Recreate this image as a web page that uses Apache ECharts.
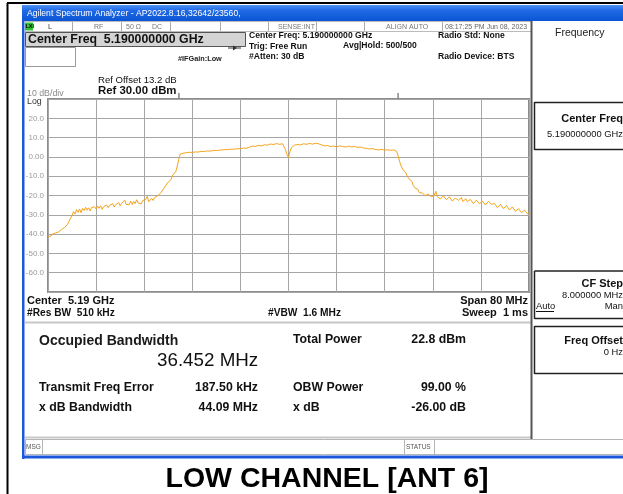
<!DOCTYPE html>
<html lang="en">
<head>
<meta charset="UTF-8">
<title>LOW CHANNEL [ANT 6]</title>
<script src="https://cdn.jsdelivr.net/npm/echarts@6/dist/echarts.min.js"></script>
<style>
	html,body{margin:0;padding:0;background:#fff;}
	#main{width:623px;height:494px;}
</style>
</head>
<body>
<div id="main"></div>
<script>
	// span -40..+40 MHz around 5.19 GHz, one point every 0.25 MHz (8 per row = 2 MHz)
	var spanMhz = [-40, 40];
	var stepMhz = 0.25;
	var traceDbm = [
		-41.2,-40.6,-41.0,-39.9,-40.3,-39.4,-39.8,-38.9,
		-38.4,-37.6,-37.9,-36.6,-35.8,-34.9,-33.4,-34.1,
		-30.2,-28.4,-29.6,-27.3,-28.8,-27.0,-28.9,-26.7,
		-27.8,-26.1,-27.6,-26.4,-28.0,-26.2,-27.1,-25.9,
		-27.0,-25.5,-26.6,-25.3,-27.2,-25.8,-26.4,-24.9,
		-26.3,-25.1,-25.9,-24.2,-26.0,-24.8,-25.5,-23.7,
		-25.3,-24.0,-24.9,-22.4,-24.6,-23.6,-24.8,-22.9,
		-24.7,-23.1,-24.2,-22.2,-23.9,-23.0,-24.4,-22.6,
		-23.5,-22.1,-20.4,-23.2,-22.4,-21.5,-22.6,-21.0,
		-21.6,-20.2,-19.9,-18.6,-18.3,-16.4,-15.9,-14.1,
		-13.0,-12.2,-11.6,-9.4,-8.9,-7.6,-4.8,-1.2,
		1.5,2.3,1.9,2.6,2.2,2.8,2.4,2.6,
		2.3,2.9,2.6,3.1,2.5,3.2,2.9,3.0,
		2.8,3.4,3.1,3.6,3.0,3.7,3.3,3.5,
		3.3,3.9,3.5,4.1,3.6,4.2,3.8,4.0,
		3.8,4.4,4.0,4.3,4.0,4.7,4.2,4.5,
		4.3,4.9,4.5,4.8,4.5,5.3,5.0,5.4,
		5.6,5.2,5.4,5.9,6.0,5.6,5.7,6.3,
		6.3,6.0,6.1,6.6,6.7,6.3,6.4,6.9,
		6.9,6.5,6.5,6.9,6.8,6.1,3.8,1.2,
		-0.4,2.8,4.9,5.8,6.1,6.5,6.4,6.2,
		6.2,6.7,6.8,6.4,6.5,7.0,7.0,6.6,
		6.6,7.2,7.1,6.7,6.8,6.5,6.2,5.9,
		5.7,6.1,5.9,5.5,5.3,5.8,5.6,5.2,
		5.2,5.6,5.7,5.3,5.4,5.1,5.1,5.6,
		5.5,5.1,5.2,5.5,5.4,4.9,4.9,5.3,
		5.1,4.7,4.6,4.4,4.4,4.2,4.1,4.4,
		4.3,3.8,3.8,3.6,3.6,4.0,3.9,3.4,
		3.5,3.8,3.7,3.4,3.4,3.7,3.6,3.2,
		2.8,0.4,-2.6,-4.8,-6.4,-7.2,-8.2,-10.1,
		-11.3,-11.9,-12.6,-14.8,-16.0,-15.6,-16.8,-18.5,
		-19.2,-18.7,-18.4,-20.1,-20.3,-19.2,-19.6,-20.8,
		-21.0,-19.9,-17.8,-20.6,-20.9,-21.8,-21.6,-20.2,
		-20.5,-22.1,-21.9,-20.7,-21.2,-22.9,-22.6,-21.3,
		-20.8,-22.5,-22.4,-21.1,-23.1,-22.3,-21.7,-23.2,
		-23.4,-22.0,-22.9,-24.2,-23.9,-22.4,-22.6,-24.3,
		-24.1,-22.9,-23.3,-24.9,-24.8,-23.0,-22.5,-24.6,
		-25.6,-24.1,-24.7,-26.3,-26.2,-24.6,-25.1,-26.8,
		-26.7,-25.2,-25.6,-27.5,-27.4,-25.9,-26.3,-28.2,
		-28.1,-26.8,-27.0,-28.9,-28.6,-27.6,-28.2,-29.5,
		-29.3
	];
	var refLevel = 30;
	var bottomLevel = -70;
	var yTickLabels = ['20.0','10.0','0.00','-10.0','-20.0','-30.0','-40.0','-50.0','-60.0'];
	var obwMhz = 36.452;

	var FONT = '"Liberation Sans", Arial, sans-serif';
	var gid = 0;
	// text helper
	function T(txt, x, y, size, opt){
		opt = opt || {};
		return {
			type:'text', id:'g'+(gid++), z:10, silent:true,
			style:{
				text:txt, x:x, y:y,
				font:(opt.bold?'bold ':'')+size+'px '+FONT,
				fill:opt.color||'#111',
				textAlign:opt.align||'left', align:opt.align||'left',
				textVerticalAlign:'middle', verticalAlign:'middle'
			}
		};
	}
	function R(x, y, w, h, fill, stroke, lw){
		return {type:'rect', id:'g'+(gid++), z:1, silent:true,
			shape:{x:x,y:y,width:w,height:h},
			style:{fill:fill||'none', stroke:stroke||'none', lineWidth:lw||1}};
	}
	function L(x1, y1, x2, y2, stroke, lw){
		return {type:'line', id:'g'+(gid++), z:2, silent:true,
			shape:{x1:x1,y1:y1,x2:x2,y2:y2},
			style:{stroke:stroke, lineWidth:lw||1}};
	}

	var traceData = [];
	for(var i=0;i<traceDbm.length;i++){
		traceData.push([spanMhz[0]+i*stepMhz, traceDbm[i]]);
	}

	var els = [];
	// outer page frame
	els.push(L(7.5, 3, 7.5, 494, '#000', 2));
	els.push(L(7, 3, 623, 3, '#000', 2));
	// title bar
	els.push({type:'rect', id:'g'+(gid++), z:1, silent:true,
		shape:{x:22,y:5,width:601,height:16},
		style:{fill:new echarts.graphic.LinearGradient(0,0,0,1,[
			{offset:0,color:'#4d92f2'},{offset:0.35,color:'#1f69e6'},{offset:1,color:'#0b55d4'}])}});
	els.push(T('Agilent Spectrum Analyzer - AP2022.8.16,32642/23560,', 27, 13.5, 8.6, {color:'#fff'}));
	// window borders
	els.push(R(22, 20, 2.5, 439, '#1c58dc'));
	els.push(R(22, 455.5, 601, 3, '#1c58dc'));

	// status row
	els.push(L(25, 21.5, 531, 21.5, '#bbb', 1));
	els.push(L(25, 31.5, 531, 31.5, '#bbb', 1));
	var seps = [72, 121, 170, 220, 268, 316, 364, 442];
	for(var s=0;s<seps.length;s++) els.push(L(seps[s]+0.5, 22, seps[s]+0.5, 31, '#aaa', 1));
	els.push(R(25, 22.5, 8, 8, '#2fc12f'));
	els.push(T('LXI', 25.5, 26.5, 5.5, {bold:true, color:'#000'}));
	els.push(T('L', 48, 27, 7.5, {color:'#444'}));
	els.push(T('RF', 94, 27, 7, {color:'#777'}));
	els.push(T('50 \u03A9', 126, 27, 7, {color:'#777'}));
	els.push(T('DC', 152, 27, 7, {color:'#777'}));
	els.push(T('SENSE:INT', 278, 27, 7, {color:'#777'}));
	els.push(T('ALIGN AUTO', 386, 27, 7, {color:'#777'}));
	els.push(T('08:17:25 PM Jun 08, 2023', 445, 27, 7, {color:'#666'}));

	// center freq entry
	els.push(R(25.5, 32.5, 220, 14, '#d4d4d4', '#555', 1));
	els.push(T('Center Freq  5.190000000 GHz', 28, 39.5, 12.3, {bold:true}));
	els.push(R(25.5, 47.5, 50, 19, '#fff', '#999', 1));
	els.push(T('#IFGain:Low', 178, 59, 7.3, {bold:true, color:'#222'}));
	els.push(L(228, 48, 241, 48, '#333', 1));
	els.push({type:'polygon', id:'g'+(gid++), z:2, silent:true,
		shape:{points:[[233,45.5],[237,48],[233,50.5]]}, style:{fill:'#333'}});
	els.push(T('Center Freq: 5.190000000 GHz', 249, 36, 8.6, {bold:true}));
	els.push(T('Trig: Free Run', 249, 46.5, 8.6, {bold:true}));
	els.push(T('#Atten: 30 dB', 249, 57, 8.6, {bold:true}));
	els.push(T('Avg|Hold: 500/500', 343, 46, 8.6, {bold:true}));
	els.push(T('Radio Std: None', 438, 36, 8.6, {bold:true}));
	els.push(T('Radio Device: BTS', 438, 57, 8.6, {bold:true}));

	// ref block
	els.push(T('Ref Offset 13.2 dB', 98, 80, 9.6));
	els.push(T('Ref 30.00 dBm', 98, 90.5, 11.4, {bold:true}));
	els.push(T('10 dB/div', 27, 93.5, 8.8, {color:'#888'}));
	els.push(T('Log', 27, 101.5, 8.8, {color:'#333'}));

	// plot footer
	els.push(T('Center  5.19 GHz', 27, 300.5, 11, {bold:true}));
	els.push(T('#Res BW  510 kHz', 27, 313, 10.2, {bold:true}));
	els.push(T('#VBW  1.6 MHz', 268, 313, 10.2, {bold:true}));
	els.push(T('Span 80 MHz', 528, 300.5, 11, {bold:true, align:'right'}));
	els.push(T('Sweep  1 ms', 528, 313, 11, {bold:true, align:'right'}));

	// results panel
	els.push(L(25, 322.5, 531, 322.5, '#c8c8c8', 2));
	els.push(L(25, 437.5, 531, 437.5, '#c8c8c8', 2));
	els.push(T('Occupied Bandwidth', 39, 341, 14, {bold:true, color:'#1a1a1a'}));
	els.push(T('36.452 MHz', 157, 360.5, 18.8, {color:'#111'}));
	els.push(T('Transmit Freq Error', 39, 388, 12.3, {bold:true}));
	els.push(T('187.50 kHz', 258, 388, 12.3, {bold:true, align:'right'}));
	els.push(T('x dB Bandwidth', 39, 408, 12.3, {bold:true}));
	els.push(T('44.09 MHz', 258, 408, 12.3, {bold:true, align:'right'}));
	els.push(T('Total Power', 293, 339.5, 12.3, {bold:true}));
	els.push(T('22.8 dBm', 466, 339.5, 12.3, {bold:true, align:'right'}));
	els.push(T('OBW Power', 293, 388, 12.3, {bold:true}));
	els.push(T('99.00 %', 466, 388, 12.3, {bold:true, align:'right'}));
	els.push(T('x dB', 293, 408, 12.3, {bold:true}));
	els.push(T('-26.00 dB', 466, 408, 12.3, {bold:true, align:'right'}));

	// right soft-key panel
	els.push(L(531.5, 21, 531.5, 439, '#555', 2));
	els.push(T('Frequency', 555, 33.5, 10.5, {color:'#222'}));
	els.push(L(534.5, 102.5, 623, 102.5, '#222', 1.5));
	els.push(L(534.5, 149.5, 623, 149.5, '#222', 1.5));
	els.push(L(534.5, 102, 534.5, 150, '#222', 1.5));
	els.push(T('Center Freq', 623, 118.5, 11, {bold:true, align:'right'}));
	els.push(T('5.190000000 GHz', 623, 134, 9.4, {align:'right'}));
	els.push(L(534.5, 271, 623, 271, '#222', 1.5));
	els.push(L(534.5, 318.5, 623, 318.5, '#222', 1.5));
	els.push(L(534.5, 271, 534.5, 319, '#222', 1.5));
	els.push(T('CF Step', 623, 283.5, 11, {bold:true, align:'right'}));
	els.push(T('8.000000 MHz', 623, 295, 9.4, {align:'right'}));
	els.push(T('Auto', 536, 306.5, 9.4));
	els.push(L(536, 311.5, 554, 311.5, '#111', 1));
	els.push(T('Man', 623, 306.5, 9.4, {align:'right'}));
	els.push(L(534.5, 326.5, 623, 326.5, '#222', 1.5));
	els.push(L(534.5, 373.5, 623, 373.5, '#222', 1.5));
	els.push(L(534.5, 326, 534.5, 374, '#222', 1.5));
	els.push(T('Freq Offset', 623, 341, 11, {bold:true, align:'right'}));
	els.push(T('0 Hz', 623, 352, 9.4, {align:'right'}));

	// message bar
	els.push(R(25.5, 439.5, 598, 15, '#fff', '#b5b5b5', 1));
	els.push(L(42.5, 440, 42.5, 454, '#b5b5b5', 1));
	els.push(L(404.5, 440, 404.5, 454, '#b5b5b5', 1));
	els.push(L(434.5, 440, 434.5, 454, '#b5b5b5', 1));
	els.push(T('MSG', 26, 447, 6.5, {color:'#555'}));
	els.push(T('STATUS', 406, 447, 6.5, {color:'#555'}));

	// caption
	els.push(T('LOW CHANNEL [ANT 6]', 327, 479, 28.5, {bold:true, align:'center', color:'#000'}));

	var myChart = echarts.init(document.getElementById('main'), null, {renderer:'canvas'});
	var option = {
		backgroundColor:'#fff',
		animation:false,
		grid:{
			left:48, top:99, width:481, height:193,
			show:true, borderColor:'#8c8c8c', borderWidth:2, backgroundColor:'#fff'
		},
		xAxis:{
			type:'value', min:spanMhz[0], max:spanMhz[1], interval:8,
			axisLine:{show:false}, axisTick:{show:false}, axisLabel:{show:false},
			splitLine:{lineStyle:{color:'#a6a6a6', width:1}}
		},
		yAxis:{
			type:'value', min:bottomLevel, max:refLevel, interval:10,
			axisLine:{show:false}, axisTick:{show:false},
			axisLabel:{
				color:'#9a9a9a', fontSize:8, fontFamily:FONT, margin:4,
				formatter:function(v){
					var k = Math.round((refLevel-10-v)/10);
					return (k>=0 && k<yTickLabels.length) ? yTickLabels[k] : '';
				}
			},
			splitLine:{lineStyle:{color:'#a6a6a6', width:1}}
		},
		series:[{
			type:'line', data:traceData, symbol:'none',
			lineStyle:{color:'#f5a31a', width:1}, z:5
		}],
		graphic:{elements:els}
	};
	myChart.setOption(option);

	// OBW edge ticks on top of graticule
	var pL = myChart.convertToPixel({gridIndex:0}, [-obwMhz/2, refLevel]);
	var pR = myChart.convertToPixel({gridIndex:0}, [obwMhz/2, refLevel]);
	myChart.setOption({graphic:{elements:[
		L(pL[0], pL[1]-6, pL[0], pL[1], '#888', 1.5),
		L(pR[0], pR[1]-6, pR[0], pR[1], '#888', 1.5)
	]}});
</script>
</body>
</html>
